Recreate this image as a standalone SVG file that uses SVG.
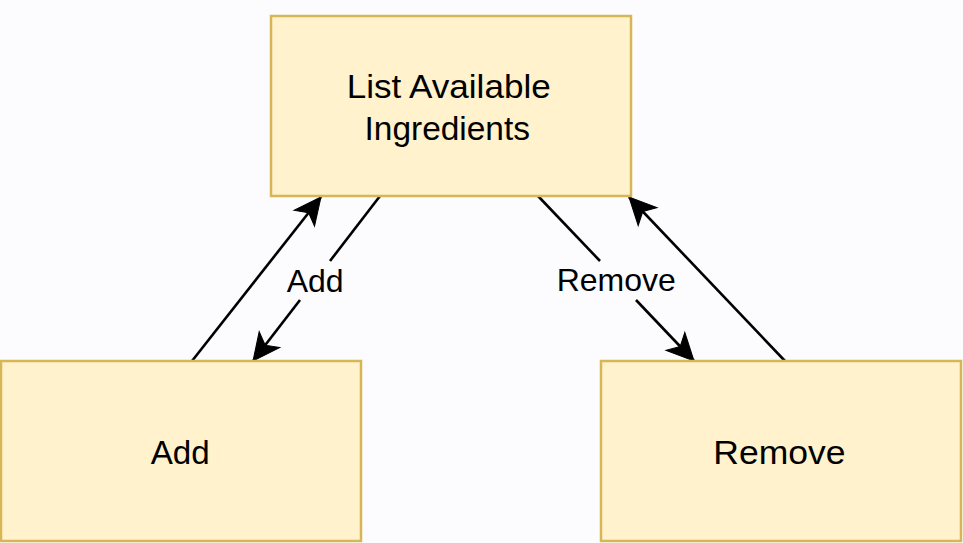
<svg xmlns="http://www.w3.org/2000/svg" width="963" height="543" viewBox="0 0 963 543">
<style>
.box{fill:#fff2cc;stroke:#d6b656;stroke-width:2.5}
.lbl{font-family:"Liberation Sans",Arial,sans-serif;font-size:33px;fill:#000}
.elbl{font-family:"Liberation Sans",Arial,sans-serif;font-size:32px;fill:#000}
.edge{fill:none;stroke:#000;stroke-width:2.6}
</style>
<defs>
<marker id="ah" markerUnits="userSpaceOnUse" markerWidth="30" markerHeight="30" viewBox="-28 -14 30 28" refX="0" refY="0" orient="auto" overflow="visible">
<path d="M0,0 L-27,-13 L-20,0 L-27,13 Z" fill="#000" stroke="#000" stroke-width="1"/>
</marker>
</defs>
<rect width="963" height="543" fill="#fcfbfd"/>
<g id="connectors">
<line class="edge" x1="192" y1="361" x2="321" y2="197" marker-end="url(#ah)"/>
<line class="edge" x1="380" y1="196" x2="330" y2="261"/>
<line class="edge" x1="300" y1="300" x2="253" y2="361" marker-end="url(#ah)"/>
<text class="elbl" x="286.7" y="291.5">Add</text>
<line class="edge" x1="538" y1="196" x2="600" y2="261"/>
<line class="edge" x1="636" y1="300" x2="694" y2="361" marker-end="url(#ah)"/>
<text class="elbl" x="556.7" y="290.7">Remove</text>
<line class="edge" x1="785" y1="361" x2="629" y2="197" marker-end="url(#ah)"/>
</g>
<g id="list">
<rect class="box" x="271" y="16" width="360" height="180"/>
<text class="lbl" x="346.7" y="98.3" textLength="204" lengthAdjust="spacingAndGlyphs">List Available</text>
<text class="lbl" x="364.5" y="139.5" textLength="165.5" lengthAdjust="spacingAndGlyphs">Ingredients</text>
</g>
<g id="add">
<rect class="box" x="1" y="361" width="360" height="180"/>
<text class="lbl" x="150.7" y="464.3" textLength="59" lengthAdjust="spacingAndGlyphs">Add</text>
</g>
<g id="remove">
<rect class="box" x="601" y="361" width="360" height="180"/>
<text class="lbl" x="713.3" y="464.3" textLength="132.3" lengthAdjust="spacingAndGlyphs">Remove</text>
</g>
</svg>
